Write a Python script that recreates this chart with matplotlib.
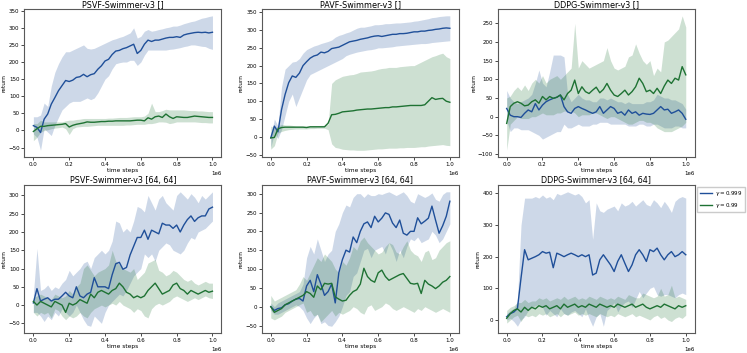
import numpy as np
import matplotlib
matplotlib.use('Agg')
import matplotlib.pyplot as plt

# time steps (every 20k)
steps = np.arange(0, 1_000_001, 20_000)

titles = ['PSVF-Swimmer-v3 []', 'PAVF-Swimmer-v3 []', 'DDPG-Swimmer-v3 []',
          'PSVF-Swimmer-v3 [64, 64]', 'PAVF-Swimmer-v3 [64, 64]', 'DDPG-Swimmer-v3 [64, 64]']
labels = [r'$\gamma = 0.999$', r'$\gamma = 0.99$']

# ---- PSVF [] ----
p1_b = [14, 9, -6, 33, 48, 77, 96, 116, 131, 146, 143, 147, 155, 157, 164, 157, 163, 166, 179, 189,
        203, 208, 222, 232, 234, 239, 242, 247, 252, 225, 234, 252, 264, 260, 264, 264, 267, 270, 272, 272,
        274, 272, 279, 282, 284, 286, 287, 286, 287, 285, 287]
p1_b_hi = [40, 40, 45, 80, 70, 130, 170, 195, 215, 230, 230, 235, 240, 245, 250, 240, 238, 240, 245, 250,
           255, 260, 265, 268, 272, 275, 280, 285, 300, 270, 275, 290, 295, 290, 292, 295, 297, 300, 302, 305,
           305, 308, 312, 315, 318, 320, 324, 328, 330, 333, 335]
p1_b_lo = [-10, -20, -58, 5, -5, -15, 15, 38, 60, 70, 80, 85, 85, 85, 90, 95, 90, 95, 110, 130,
           150, 160, 180, 195, 198, 200, 200, 205, 205, 190, 200, 220, 235, 235, 235, 235, 235, 235, 237, 238,
           240, 242, 245, 247, 250, 250, 248, 246, 245, 240, 237]
p1_g = [-3, 5, 12, 12, 14, 15, 16, 17, 18, 20, 10, 15, 18, 20, 22, 25, 24, 24, 25, 26,
        26, 27, 27, 28, 28, 28, 28, 28, 29, 30, 30, 28, 37, 33, 40, 42, 38, 48, 40, 35,
        40, 39, 38, 38, 40, 42, 41, 40, 39, 38, 38]
p1_g_hi = [20, 20, 30, 25, 25, 25, 25, 25, 25, 28, 30, 30, 32, 33, 35, 35, 35, 35, 35, 35,
           35, 36, 36, 37, 38, 38, 38, 39, 40, 40, 40, 42, 50, 80, 55, 55, 58, 62, 60, 60,
           60, 60, 60, 59, 58, 58, 57, 57, 56, 55, 55]
p1_g_lo = [-30, -20, -5, 0, 2, 5, 7, 8, 10, 5, -12, 5, 10, 11, 12, 12, 13, 14, 15, 15,
           15, 15, 15, 15, 15, 15, 16, 16, 17, 18, 18, 18, 20, 20, 22, 25, 25, 24, 20, 22,
           25, 25, 25, 25, 25, 25, 24, 23, 23, 22, 22]

# ---- PAVF [] ----
p2_b = [-3, 30, 14, 76, 119, 152, 171, 167, 179, 200, 211, 221, 227, 230, 238, 236, 240, 248, 250, 252,
        257, 262, 267, 269, 271, 274, 276, 278, 281, 283, 284, 282, 284, 286, 288, 288, 290, 290, 291, 293,
        295, 295, 297, 297, 299, 300, 302, 303, 305, 306, 305]
p2_b_hi = [0, 50, 30, 140, 190, 200, 210, 212, 220, 235, 245, 250, 255, 258, 262, 265, 268, 272, 280, 285,
           288, 292, 295, 300, 305, 308, 308, 310, 312, 315, 315, 316, 318, 318, 319, 320, 320, 321, 322, 323,
           325, 326, 328, 330, 332, 335, 336, 338, 339, 340, 340]
p2_b_lo = [-30, 10, -5, 20, 60, 100, 120, 85, 110, 135, 160, 175, 180, 185, 190, 195, 200, 205, 210, 215,
           220, 228, 232, 235, 238, 240, 242, 244, 245, 247, 250, 250, 251, 252, 253, 255, 256, 257, 258, 259,
           260, 261, 262, 262, 263, 265, 266, 267, 268, 269, 270]
p2_g = [-3, -2, 22, 26, 27, 27, 27, 27, 27, 27, 26, 28, 28, 28, 28, 28, 38, 62, 63, 66,
        70, 71, 72, 73, 75, 76, 77, 78, 78, 79, 80, 81, 82, 82, 84, 84, 85, 86, 87, 88,
        88, 88, 88, 90, 100, 110, 105, 107, 108, 100, 97]
p2_g_hi = [30, 25, 30, 35, 33, 33, 32, 30, 30, 30, 30, 30, 31, 31, 32, 32, 35, 150, 160, 165,
           170, 172, 174, 175, 178, 182, 183, 184, 185, 187, 190, 192, 193, 195, 195, 195, 197, 198, 199, 200,
           200, 205, 210, 215, 220, 225, 228, 232, 235, 225, 220]
p2_g_lo = [-35, -25, 10, 15, 18, 20, 21, 22, 22, 22, 22, 23, 23, 24, 24, 24, 20, -20, -30, -32,
           -35, -36, -37, -37, -38, -38, -38, -37, -36, -35, -34, -34, -33, -32, -32, -32, -31, -31, -30, -30,
           -30, -29, -28, -28, -26, -25, -24, -23, -22, -24, -25]

# ---- DDPG [] ----
p3_b = [22, 4, 0, 0, -2, 9, 18, 13, 35, 18, 31, 40, 45, 49, 52, 58, 27, 13, 9, 22,
        27, 22, 18, 13, 9, 13, 27, 9, 18, 27, 22, 9, 13, 4, 18, 9, 13, 4, 9, 7,
        6, 9, 18, 27, 18, 20, 9, 13, 18, 9, -7]
p3_b_hi = [70, 50, 40, 35, 40, 45, 50, 60, 90, 125, 90, 80, 120, 165, 165, 165, 160, 60, 40, 50,
           60, 50, 45, 45, 40, 40, 50, 50, 45, 50, 45, 40, 40, 35, 40, 35, 35, 35, 35, 40,
           40, 45, 60, 55, 50, 50, 45, 45, 40, 35, 20]
p3_b_lo = [-10, -40, -30, -30, -35, -35, -35, -40, -45, -50, -60, -55, -50, -45, -40, -40, -20, -30, -30, -25,
           -20, -25, -25, -25, -20, -20, -15, -15, -15, -20, -20, -20, -20, -20, -25, -25, -25, -20, -20, -25,
           -25, -20, -20, -25, -30, -30, -30, -25, -25, -30, -30]
p3_g = [-18, 27, 36, 40, 36, 29, 31, 40, 45, 36, 54, 45, 54, 49, 52, 58, 45, 62, 71, 98,
        62, 80, 67, 62, 71, 79, 64, 73, 89, 71, 58, 54, 62, 71, 58, 67, 80, 103, 89, 67,
        71, 62, 76, 62, 82, 98, 89, 103, 98, 134, 112]
p3_g_hi = [50, 55, 70, 80, 70, 85, 70, 90, 100, 90, 110, 90, 100, 105, 110, 100, 110, 120, 130, 250,
           130, 150, 140, 130, 135, 140, 145, 150, 185, 150, 130, 125, 130, 135, 160, 165, 195, 170, 150, 140,
           150, 110, 130, 120, 200, 205, 215, 225, 235, 270, 240]
p3_g_lo = [-90, -20, -10, 0, -5, -5, -5, 0, 0, 5, 10, 5, 5, 5, 10, 10, 15, 15, 15, 10,
           0, 5, 5, 5, 10, 10, 5, 0, -5, 0, 0, -5, -10, -15, -20, -20, -15, -10, -10, -15,
           -15, -20, -30, -35, -40, -40, -40, -35, -30, -25, -15]

# ---- PSVF [64, 64] ----
p4_b = [6, 45, 11, 16, 20, 11, 16, 16, 25, 35, 25, 20, 50, 25, 20, 30, 35, 75, 50, 50,
        50, 45, 83, 113, 117, 98, 103, 137, 161, 185, 185, 205, 180, 205, 200, 195, 224, 219, 219, 210,
        219, 200, 219, 234, 244, 229, 239, 244, 244, 263, 268]
p4_b_hi = [30, 155, 40, 45, 55, 40, 50, 45, 60, 70, 95, 80, 90, 100, 115, 120, 100, 130, 140, 150,
           140, 150, 175, 230, 225, 200, 210, 200, 230, 270, 265, 255, 300, 280, 260, 290, 300, 280, 270, 260,
           300, 310, 300, 290, 305, 295, 280, 300, 290, 300, 310]
p4_b_lo = [-20, -20, -30, -45, -30, -40, -20, -30, -10, -20, -30, -20, 0, -20, -40, -55, -58, -30, -40, -50,
           -20, 0, 10, 20, 30, 25, 40, 60, 80, 90, 100, 140, 130, 140, 120, 150, 160, 170, 165, 150,
           145, 140, 150, 170, 185, 180, 200, 205, 210, 220, 230]
p4_g = [10, 0, 10, 5, 0, -5, 10, 5, 0, -20, 5, 0, 5, 15, 10, 5, 30, 20, 35, 40,
        35, 30, 40, 45, 60, 50, 35, 30, 20, 25, 20, 25, 40, 50, 60, 45, 30, 35, 40, 55,
        60, 45, 40, 30, 40, 35, 30, 35, 40, 35, 38]
p4_g_hi = [20, 25, 30, 25, 20, 15, 30, 25, 20, 25, 40, 30, 50, 60, 100, 110, 95, 80, 90, 95,
           100, 110, 150, 120, 110, 100, 95, 90, 100, 70, 80, 90, 115, 120, 125, 95, 90, 80, 85, 95,
           90, 80, 70, 65, 70, 60, 55, 60, 65, 60, 60]
p4_g_lo = [-20, -30, -20, -25, -20, -35, -10, -15, -30, -40, -30, -35, -30, -20, -30, -35, -20, -10, -5, 0,
           -5, 0, 5, 0, 10, 0, -5, -10, -20, -10, -15, -30, -35, -10, 0, 5, 0, 5, 10, 20,
           25, 20, 15, 10, 15, 20, 15, 20, 25, 20, 18]

# ---- PAVF [64, 64] ----
p5_b = [0, -10, -5, -3, 5, 8, 15, 20, 22, 15, 55, 70, 40, 85, 60, 30, 40, 60, 10, 90,
        125, 150, 145, 185, 170, 200, 220, 225, 210, 240, 225, 235, 249, 245, 222, 210, 230, 195, 190, 200,
        200, 236, 220, 227, 235, 267, 230, 195, 215, 240, 280]
p5_b_hi = [10, 0, 10, 15, 20, 25, 30, 35, 40, 60, 130, 160, 140, 180, 150, 120, 140, 150, 200, 220,
           250, 270, 265, 290, 300, 300, 290, 300, 295, 295, 300, 298, 302, 305, 300, 295, 300, 305, 295, 280,
           275, 300, 295, 290, 295, 302, 285, 280, 298, 305, 305]
p5_b_lo = [-10, -20, -20, -15, -10, -5, 0, 5, 0, -10, -30, -45, -30, -20, -45, -40, -50, -52, -40, -25,
           0, 30, 40, 80, 90, 120, 150, 155, 130, 150, 155, 160, 140, 170, 150, 120, 150, 130, 160, 180,
           175, 185, 170, 175, 180, 200, 190, 170, 180, 200, 220]
p5_g = [0, -15, -10, -5, 5, 10, 15, 20, 25, 30, 40, 35, 25, 55, 45, 62, 60, 62, 26, 20,
        15, 17, 30, 40, 45, 60, 102, 80, 70, 65, 90, 97, 80, 70, 75, 80, 85, 88, 75, 62,
        60, 62, 35, 70, 60, 55, 48, 55, 65, 70, 80]
p5_g_hi = [30, 15, 20, 25, 30, 35, 40, 45, 60, 80, 70, 90, 110, 130, 120, 140, 130, 120, 100, 90,
           120, 110, 130, 160, 150, 175, 185, 170, 160, 150, 140, 145, 160, 170, 165, 145, 140, 160, 175, 150,
           140, 135, 120, 145, 150, 125, 130, 150, 160, 170, 175]
p5_g_lo = [-30, -35, -30, -25, -15, -10, -5, 0, 5, 10, -15, -10, -25, -20, -40, -30, -20, -10, -25, -15,
           -20, -15, -10, 0, -5, -15, -20, 0, 5, -10, -5, 0, 10, 5, -5, -10, -5, 0, -5, -10,
           -15, -5, -10, 0, -5, -10, -15, -10, -5, -10, -15]

# ---- DDPG [64, 64] ----
p6_b = [10, 20, 25, 36, 132, 222, 190, 195, 200, 206, 216, 211, 214, 165, 211, 206, 200, 206, 211, 206,
        200, 206, 200, 206, 142, 148, 190, 206, 190, 174, 153, 185, 206, 179, 153, 174, 206, 222, 206, 185,
        222, 216, 227, 206, 190, 206, 216, 200, 206, 216, 206]
p6_b_hi = [20, 30, 35, 60, 300, 385, 385, 385, 390, 385, 395, 385, 390, 380, 400, 395, 400, 405, 400, 395,
           400, 390, 370, 380, 255, 370, 345, 340, 350, 355, 360, 345, 370, 360, 365, 375, 360, 370, 380, 365,
           360, 380, 370, 355, 375, 360, 340, 375, 385, 390, 385]
p6_b_lo = [0, 5, -5, -20, 0, 10, 30, 40, 45, 50, 40, 15, 30, 20, 10, 35, 20, 15, 25, 30,
           20, 10, 35, 5, -20, 10, 20, -20, 30, 40, 55, 25, 45, 55, 60, 40, 65, 90, 70, 85,
           100, 105, 80, 75, 80, 80, 75, 70, 80, 85, 80]
p6_g = [5, 20, 30, 35, 25, 40, 30, 40, 35, 45, 40, 45, 35, 40, 45, 35, 50, 40, 45, 50,
        40, 45, 40, 50, 45, 40, 50, 45, 40, 45, 40, 50, 45, 40, 45, 50, 40, 45, 50, 40,
        35, 40, 45, 40, 50, 45, 40, 35, 45, 40, 45]
p6_g_hi = [30, 40, 45, 55, 55, 65, 55, 60, 60, 70, 65, 70, 60, 65, 70, 65, 75, 65, 70, 75,
           65, 70, 65, 75, 70, 65, 75, 70, 65, 70, 65, 75, 70, 65, 80, 75, 70, 70, 85, 80,
           75, 70, 75, 100, 75, 80, 110, 70, 75, 70, 65]
p6_g_lo = [-10, 0, 10, 15, -5, 15, 10, 15, 10, 20, 15, 20, 10, 15, 20, 10, 20, 15, 20, 25,
           15, 20, 15, 20, 15, 10, 20, 15, 10, 15, 10, 20, 15, 10, 15, 20, 10, 15, 10, 5,
           0, 10, 15, 5, 10, 0, -5, 5, 10, 5, 15]

panels = [
    [(p1_b, p1_b_lo, p1_b_hi), (p1_g, p1_g_lo, p1_g_hi)],
    [(p2_b, p2_b_lo, p2_b_hi), (p2_g, p2_g_lo, p2_g_hi)],
    [(p3_b, p3_b_lo, p3_b_hi), (p3_g, p3_g_lo, p3_g_hi)],
    [(p4_b, p4_b_lo, p4_b_hi), (p4_g, p4_g_lo, p4_g_hi)],
    [(p5_b, p5_b_lo, p5_b_hi), (p5_g, p5_g_lo, p5_g_hi)],
    [(p6_b, p6_b_lo, p6_b_hi), (p6_g, p6_g_lo, p6_g_hi)],
]
colors = ['#1f4f99', '#1e7233']

fig = plt.figure(figsize=(7.47, 3.53), dpi=100)
lefts = [0.0327, 0.3505, 0.6663]
bottoms = [0.5552, 0.0567]
w, h = 0.2637, 0.4190

axes = []
for r in range(2):
    for c in range(3):
        axes.append(fig.add_axes([lefts[c], bottoms[r], w, h]))

for i, ax in enumerate(axes):
    for (mean, lo, hi), col, lab in zip(panels[i], colors, labels):
        ax.fill_between(steps, lo, hi, color=col, alpha=0.22, linewidth=0)
        ax.plot(steps, mean, color=col, lw=1.0, label=lab)
    ax.set_title(titles[i], fontsize=5.8, pad=1.2)
    ax.set_xlabel('time steps', fontsize=4.2, labelpad=1)
    ax.set_ylabel('return', fontsize=4.2, labelpad=1)
    ax.tick_params(labelsize=4.0, length=2, width=0.5, pad=1.5)
    ax.xaxis.get_offset_text().set_fontsize(4.0)
    for s in ax.spines.values():
        s.set_color('0.35')
        s.set_linewidth(0.8)

axes[5].legend(loc='upper left', bbox_to_anchor=(1.005, 1.0), fontsize=4.0,
               frameon=True, fancybox=False, edgecolor='0.75', handlelength=2.2,
               handletextpad=0.6, borderpad=0.4, borderaxespad=0.3)

fig.savefig('out.png', dpi=100)
